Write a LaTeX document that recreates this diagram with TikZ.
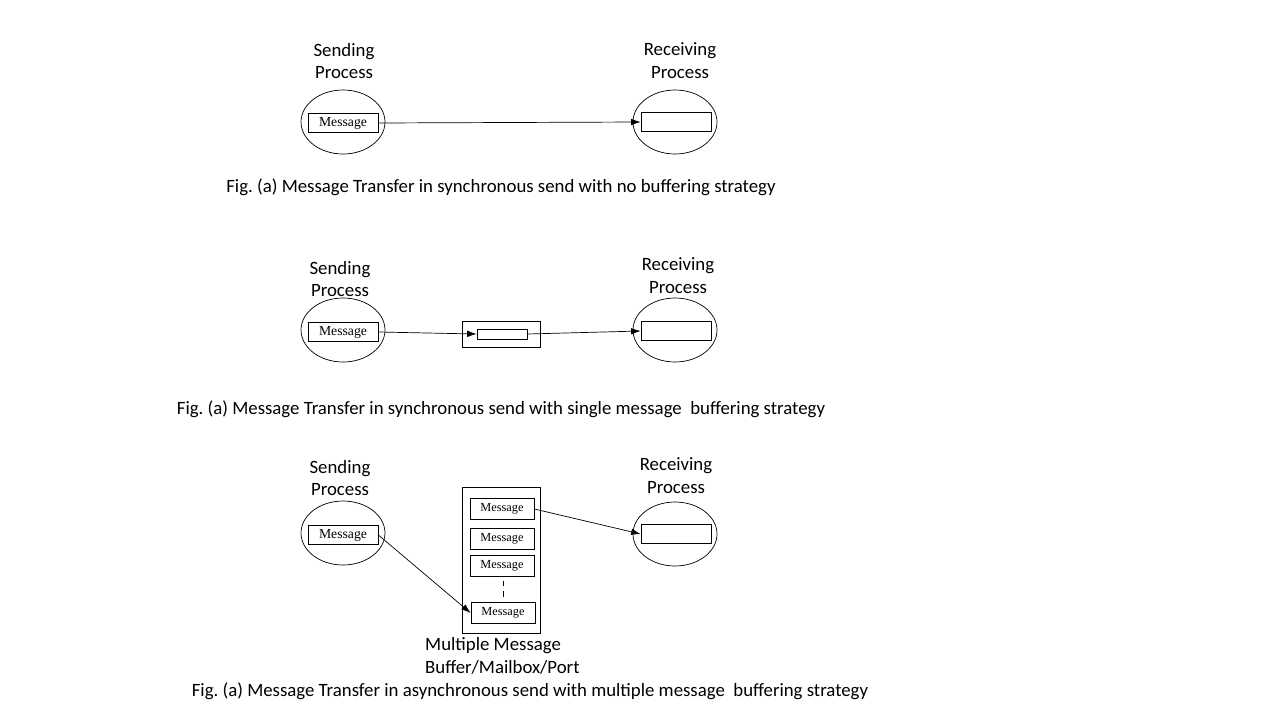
\documentclass[tikz,border=0pt]{standalone}
\usepackage{fontspec}
\setmainfont{Carlito}
\newfontfamily\msgfont{Liberation Serif}
\usepackage{xcolor}
\usetikzlibrary{shapes.geometric, arrows.meta}
\frenchspacing

\tikzset{
	proc/.style={draw, ellipse, minimum width=1.68cm, minimum height=1.28cm, inner sep=0pt},
	msgbox/.style={draw, fill=white, minimum width=1.4cm, minimum height=0.38cm, inner sep=0pt, font=\msgfont\fontsize{7.8}{9}\selectfont},
	bufmsg/.style={msgbox, minimum width=1.28cm, minimum height=0.42cm, font=\msgfont\fontsize{7}{8}\selectfont},
	lbl/.style={align=center, font=\fontsize{10.7}{13}\selectfont},
	flow/.style={-{Latex[length=1.9mm, width=1.3mm]}, thin}
}

\begin{document}
\begin{tikzpicture}[x=0.02cm, y=-0.02cm]
					\useasboundingbox (0,0) rectangle (1280,720);
					
					% no buffering
					\node[lbl] (sendlbl1) at (344,61) {Sending\\Process};
					\node[lbl] (recvlbl1) at (680,61) {Receiving\\Process};
					\node[proc] (send1) at (343,122) {};
					\node[proc] (recv1) at (675,122) {};
					\node[msgbox] (msg1) at (343,123) {Message};
					\node[msgbox] (slot1) at (676,122) {};
					\draw[flow] (msg1.east) -- (slot1.west);
					\node[lbl] (cap1) at (501,187) {Fig. (a) Message Transfer in synchronous send with no buffering strategy};
					
					% single message buffer
					\node[lbl] (sendlbl2) at (340,279) {Sending\\Process};
					\node[lbl] (recvlbl2) at (678,276) {Receiving\\Process};
					\node[proc] (send2) at (343,330) {};
					\node[proc] (recv2) at (675,330) {};
					\node[msgbox] (msg2) at (343,332) {Message};
					\node[msgbox] (slot2) at (676,331) {};
					\node[draw, minimum width=1.56cm, minimum height=0.52cm, inner sep=0pt] (buf2) at (501,334) {};
					\node[draw, minimum width=1cm, minimum height=0.2cm, inner sep=0pt] (cell2) at (502,334) {};
					\draw[flow] (msg2.east) -- (cell2.west);
					\draw[flow] (cell2.east) -- (slot2.west);
					\node[lbl] (cap2) at (501,409) {Fig. (a) Message Transfer in synchronous send with single message\ \ buffering strategy};
					
					% multiple message buffer
					\node[lbl] (sendlbl3) at (340,478) {Sending\\Process};
					\node[lbl] (recvlbl3) at (676,476) {Receiving\\Process};
					\node[proc] (send3) at (343,533) {};
					\node[proc] (recv3) at (675,534) {};
					\node[msgbox] (msg3) at (343,535) {Message};
					\node[msgbox] (slot3) at (676,534) {};
					\node[draw, minimum width=1.56cm, minimum height=2.92cm, inner sep=0pt] (buf3) at (501,560) {};
					\node[bufmsg] (qa) at (502,509) {Message};
					\node[bufmsg] (qb) at (502,539) {Message};
					\node[bufmsg] (qc) at (502,566) {Message};
					\node[bufmsg] (qd) at (503,613) {Message};
					\draw[dashed] (qc.south) ++(1,4) -- ++(0,18);
					\draw[flow] (msg3.east) -- (qd.west);
					\draw[flow] (qa.east) -- (slot3.west);
					\node[lbl, align=left, anchor=west] (buflbl3) at (419,656) {Multiple Message\\Buffer/Mailbox/Port};
					\node[lbl] (cap3) at (530,691) {Fig. (a) Message Transfer in asynchronous send with multiple message\ \ buffering strategy};
				\end{tikzpicture}
\end{document}
